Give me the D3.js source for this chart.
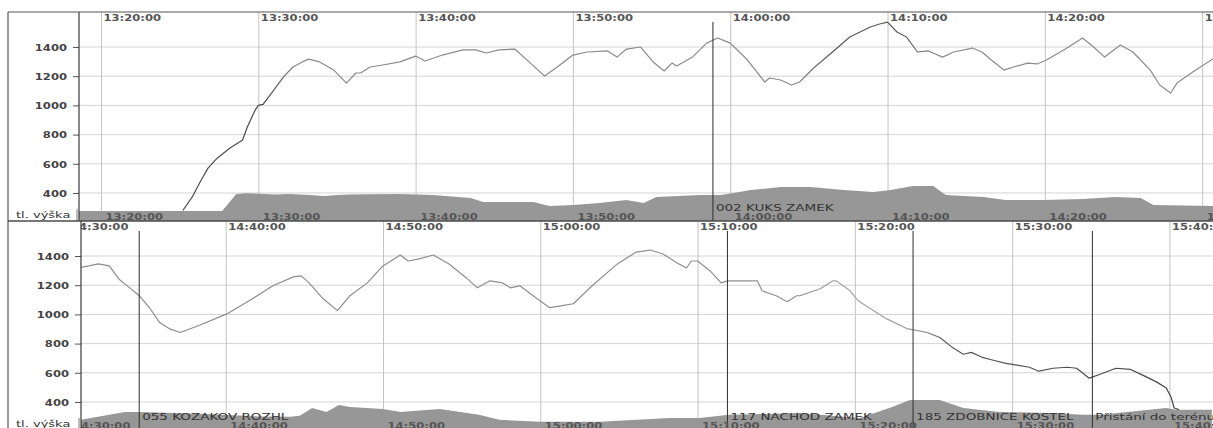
<!DOCTYPE html>
<html><head><meta charset="utf-8">
<script src="https://cdn.jsdelivr.net/npm/d3@7"></script>
<style>
html,body{margin:0;padding:0;background:#fff;}
svg{display:block;}
</style></head><body>
<svg id="c" width="1213" height="428"></svg>
<script>
// ---- data (time = minutes after 13:00) ----
const flightMin = [25.2,25.8,26.3,26.8,27.4,28.2,29.0,29.3,29.8,30.0,30.3,30.9,31.6,32.2,32.8,33.2,33.9,34.8,35.6,36.2,36.5,37.1,37.9,39.0,40.0,40.6,41.7,43.0,43.8,44.5,45.3,46.3,47.3,48.2,49.0,50.0,50.9,52.2,52.8,53.4,54.3,55.1,55.8,56.3,56.6,57.6,58.5,59.2,60.0,61.1,62.2,62.5,63.2,63.9,64.4,65.3,66.5,67.6,68.9,69.5,70.0,70.6,71.2,71.9,72.6,73.5,74.2,75.4,76.0,76.6,77.4,78.0,78.9,79.5,80.1,81.2,82.4,83.1,83.8,84.8,85.6,86.7,87.3,88.0,88.4,89.4,90.7,
  91.3,91.9,92.6,93.2,93.9,94.5,95.2,95.8,96.4,97.1,98.3,100.1,101.7,103.0,104.3,104.8,105.3,106.2,107.1,107.9,109.0,110.0,111.1,111.6,112.3,113.2,114.2,115.3,116.0,116.8,117.6,118.1,118.7,119.8,120.6,121.4,122.1,123.3,124.9,126.1,127.0,127.8,128.7,129.3,129.6,130.0,130.8,131.5,131.9,133.8,134.1,135.0,135.7,136.3,136.5,137.8,138.6,138.8,139.7,140.1,140.3,142.0,143.3,143.9,144.6,145.4,146.2,146.9,147.4,148.1,148.8,149.6,150.3,151.1,151.7,152.6,153.5,154.1,154.9,155.6,156.6,157.5,158.3,159.2,159.8,160.1,160.3,160.6];
const flightAlt = [280,373,475,570,640,708,763,852,968,1000,1007,1092,1195,1263,1298,1317,1298,1242,1153,1222,1222,1263,1277,1298,1338,1304,1345,1380,1380,1359,1380,1386,1290,1201,1263,1345,1366,1373,1331,1386,1400,1298,1236,1290,1270,1331,1427,1462,1427,1311,1160,1188,1174,1140,1160,1256,1366,1469,1537,1558,1571,1503,1469,1366,1373,1331,1366,1393,1366,1311,1242,1263,1290,1284,1311,1380,1462,1400,1331,1414,1366,1242,1140,1085,1153,1229,1320,
  1332,1346,1332,1243,1182,1128,1039,944,903,876,924,1005,1107,1196,1257,1264,1216,1107,1026,1128,1216,1332,1407,1366,1380,1407,1346,1250,1182,1230,1216,1182,1196,1107,1046,1060,1073,1196,1346,1427,1441,1414,1352,1318,1366,1366,1298,1216,1230,1230,1162,1128,1087,1128,1128,1176,1230,1230,1162,1107,1087,971,903,890,876,842,774,727,740,706,686,665,652,638,611,631,638,631,563,590,631,624,584,536,495,434,359,348];
const terrainMin = [18.6,27.7,28.6,29.2,30.1,31.0,32.0,33.0,34.2,35.0,35.8,37.0,39.0,41.1,43.5,44.3,47.5,48.5,50.0,51.7,53.4,54.5,55.3,58.1,59.4,60.2,61.3,63.2,65.1,67.2,69.1,70.2,71.6,72.9,73.7,76.1,77.5,79.9,82.4,84.5,86.1,86.9,90.7,
  90.8,92.6,93.6,94.5,98.3,102.2,104.1,104.7,105.5,106.4,107.2,107.9,110.0,111.1,113.6,116.1,117.4,120.0,123.8,128.2,130.1,132.0,136.5,140.3,142.2,143.5,145.4,146.9,149.2,152.4,154.5,155.6,159.8,160.4,162.7];
const terrainAlt = [277,277,393,398,395,390,393,388,380,386,390,392,393,386,366,338,338,311,318,332,352,332,373,386,386,400,420,441,441,420,407,420,448,448,386,373,352,352,359,373,366,318,311,
  278,312,332,332,320,300,298,305,359,332,380,366,352,332,352,312,278,264,264,291,291,312,325,291,359,414,414,359,332,325,312,312,359,346,346];
const markerMin = [58.9, 94.5, 131.9, 143.7, 155.1];
const markerNames = ["002 KUKS ZAMEK", "055 KOZAKOV ROZHL", "117 NACHOD ZAMEK", "185 ZDOBNICE KOSTEL", "Přistání do terénu"];
const altTicks = [400, 600, 800, 1000, 1200, 1400];
const panelStartMin = [18.6, 90.8];
const panelEndMin = [90.69, 162.77];
const groundLabel = "tl. výška";

// ---- drawing ----
const W = 1213;
const svg = d3.select("#c");
const base = new Date(2000, 0, 1, 13, 0, 0);
const toDate = m => new Date(base.getTime() + m * 60000);
const fmt = d3.timeFormat("%H:%M:%S");
const flight = flightMin.map((m, i) => ({t: toDate(m), v: flightAlt[i]}));
const terrain = terrainMin.map((m, i) => ({t: toDate(m), v: terrainAlt[i]}));
const panels = [{top: 12, left: 79}, {top: 221, left: 81}];
const PH = 209;
const SX = 1.22;
// ink shade of the printed trace (scan darkness), by minute
const inkStops = [
  [[18.6,"#505050"],[30.5,"#4a4a4a"],[32.5,"#8a8a8a"],[64,"#8a8a8a"],[66.5,"#5a5a5a"],[71,"#5a5a5a"],[73,"#8a8a8a"],[90.7,"#8c8c8c"]],
  [[90.8,"#8c8c8c"],[137,"#909090"],[139,"#a8a8a8"],[144,"#9a9a9a"],[145.6,"#585858"],[162.7,"#454545"]]
];
const defs = svg.append("defs");

panels.forEach((p, pi) => {
  const x = d3.scaleTime().domain([toDate(panelStartMin[pi]), toDate(panelEndMin[pi])]).range([p.left, W]);
  const y = d3.scaleLinear().domain([208, 1640]).range([p.top + PH, p.top]);
  const clipId = "clip" + pi;
  defs.append("clipPath").attr("id", clipId).append("rect")
    .attr("x", p.left).attr("y", p.top).attr("width", W - p.left).attr("height", PH);
  const gradId = "ink" + pi;
  const grad = defs.append("linearGradient").attr("id", gradId)
    .attr("gradientUnits", "userSpaceOnUse").attr("x1", p.left).attr("x2", W).attr("y1", 0).attr("y2", 0);
  inkStops[pi].forEach(s => {
    grad.append("stop").attr("offset", (x(toDate(s[0])) - p.left) / (W - p.left)).attr("stop-color", s[1]);
  });
  const g = svg.append("g").attr("clip-path", `url(#${clipId})`);
  const tickVals = d3.timeMinute.every(10).range(d3.timeMinute.offset(x.domain()[0], -10), x.domain()[1]);

  // horizontal gridlines
  g.selectAll("line.hg").data(altTicks).join("line")
    .attr("x1", p.left).attr("x2", W).attr("y1", d => y(d)).attr("y2", d => y(d))
    .attr("stroke", "#d4d4d4").attr("stroke-width", 1);

  // top time axis with vertical gridlines
  const ax = g.append("g").attr("transform", `translate(0,${p.top})`)
    .call(d3.axisTop(x).tickValues(tickVals).tickSize(-PH).tickFormat(fmt));
  ax.select(".domain").remove();
  ax.selectAll(".tick line").attr("stroke", "#c4c4c4").attr("stroke-width", 1);
  ax.selectAll(".tick text").attr("text-anchor", "start").attr("dy", null)
    .attr("x", 2 / SX).attr("y", 9).attr("transform", `scale(${SX},1)`)
    .attr("font-family", "DejaVu Sans").attr("font-weight", "bold").attr("font-size", 9.5)
    .attr("fill", "#555");

  // terrain area
  g.append("path").datum(terrain)
    .attr("d", d3.area().x(d => x(d.t)).y0(p.top + PH).y1(d => y(d.v)))
    .attr("fill", "#979797");

  // flight line
  g.append("path").datum(flight)
    .attr("d", d3.line().x(d => x(d.t)).y(d => y(d.v)))
    .attr("fill", "none").attr("stroke", `url(#${gradId})`).attr("stroke-width", 1.2)
    .attr("stroke-linejoin", "round");

  // markers
  markerMin.forEach((m, i) => {
    const d = toDate(m);
    if (d < x.domain()[0] || d > x.domain()[1]) return;
    const xx = x(d);
    g.append("line").attr("x1", xx).attr("x2", xx).attr("y1", p.top + 10).attr("y2", p.top + PH)
      .attr("stroke", "#2e2e2e").attr("stroke-width", 1);
    g.append("text").text(markerNames[i])
      .attr("transform", `translate(${xx + 3},${p.top + PH - 10}) scale(1.5,1)`)
      .attr("font-family", "DejaVu Sans").attr("font-size", 9).attr("fill", "#333");
  });

  // bottom time labels inside ground band
  const bx = g.append("g").attr("transform", `translate(0,${p.top + PH - 1})`)
    .call(d3.axisBottom(x).tickValues(tickVals).tickSize(0).tickFormat(fmt));
  bx.select(".domain").remove();
  bx.selectAll(".tick text").attr("text-anchor", "start").attr("dy", null)
    .attr("x", 4 / SX).attr("y", 0).attr("transform", `scale(${SX},1)`)
    .attr("font-family", "DejaVu Sans").attr("font-weight", "bold").attr("font-size", 9.5)
    .attr("fill", "#555");

  // y axis
  const ay = svg.append("g").attr("transform", `translate(${p.left},0)`)
    .call(d3.axisLeft(y).tickValues(altTicks).tickSize(6).tickFormat(d3.format("d")));
  ay.select(".domain").remove();
  ay.selectAll(".tick line").attr("stroke", "#555");
  ay.selectAll(".tick text").attr("x", -12 / SX).attr("dy", "0.35em")
    .attr("transform", `scale(${SX},1)`)
    .attr("font-family", "DejaVu Sans").attr("font-weight", "bold").attr("font-size", 9.5)
    .attr("fill", "#444");
  svg.append("line").attr("x1", p.left).attr("x2", p.left).attr("y1", p.top).attr("y2", p.top + PH)
    .attr("stroke", "#3a3a3a").attr("stroke-width", 1.2);

  // ground label
  svg.append("text").text(groundLabel)
    .attr("transform", `translate(16,${p.top + PH - 3}) scale(1.37,1)`)
    .attr("font-family", "DejaVu Sans").attr("font-size", 9.5).attr("fill", "#333");
  svg.append("line").attr("x1", p.left - 2).attr("x2", p.left - 2)
    .attr("y1", p.top + PH - 12).attr("y2", p.top + PH)
    .attr("stroke", "#777").attr("stroke-width", 1);
});

// frame
svg.append("line").attr("x1", 8).attr("x2", W).attr("y1", 12).attr("y2", 12).attr("stroke", "#555").attr("stroke-width", 1.2);
svg.append("line").attr("x1", 8).attr("x2", 8).attr("y1", 12).attr("y2", 428).attr("stroke", "#555").attr("stroke-width", 1.2);
svg.append("line").attr("x1", 8).attr("x2", W).attr("y1", 221).attr("y2", 221).attr("stroke", "#4a4a4a").attr("stroke-width", 1.5);
</script>
</body></html>
